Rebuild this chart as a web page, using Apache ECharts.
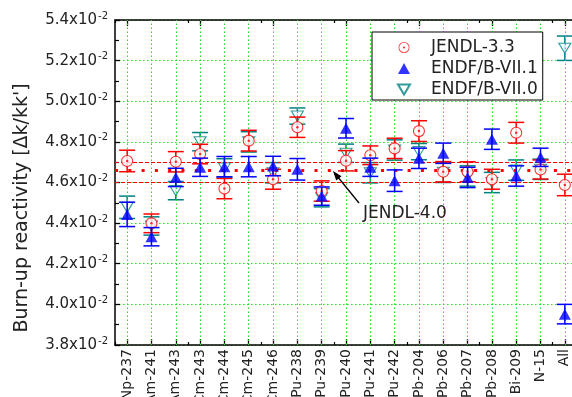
<!DOCTYPE html>
<html>
<head>
<meta charset="utf-8">
<script src="https://cdn.jsdelivr.net/npm/echarts@6/dist/echarts.min.js"></script>
<style>html,body{margin:0;padding:0;background:#fff;}#c{width:572px;height:397px;}</style>
</head>
<body>
<div id="c"></div>
<script>
// values in units of 10^-2 (Δk/kk')
const categories = ['Np-237','Am-241','Am-243','Cm-243','Cm-244','Cm-245','Cm-246','Pu-238','Pu-239','Pu-240','Pu-241','Pu-242','Pb-204','Pb-206','Pb-207','Pb-208','Bi-209','N-15','All'];
const jendl33 = [4.706,4.399,4.702,4.740,4.570,4.806,4.616,4.872,4.558,4.707,4.734,4.768,4.853,4.653,4.653,4.616,4.845,4.664,4.588];
const jendl33Err = [0.053,0.046,0.050,0.048,0.050,0.051,0.049,0.050,0.050,0.050,0.046,0.050,0.051,0.050,0.049,0.049,0.051,0.047,0.053];
const endf71 = [4.443,4.333,4.625,4.675,4.678,4.678,4.681,4.665,4.533,4.867,4.675,4.609,4.719,4.744,4.625,4.813,4.632,4.724,3.952];
const endf71Err = [0.060,0.045,0.045,0.045,0.050,0.050,0.048,0.053,0.045,0.048,0.045,0.053,0.050,0.050,0.050,0.050,0.050,0.045,0.048];
const endf70 = [4.478,4.386,4.560,4.801,4.672,4.800,4.648,4.927,4.525,4.744,4.648,4.760,4.752,4.650,4.632,4.600,4.661,4.665,5.261];
const endf70Err = [0.055,0.045,0.045,0.045,0.045,0.050,0.050,0.040,0.045,0.045,0.050,0.050,0.040,0.050,0.050,0.050,0.050,0.050,0.060];
const jendl40 = 4.657;
const jendl40Band = [4.600, 4.700];
const yTicks = {min: 3.8, max: 5.4, interval: 0.2};

const RED = '#ff0000', BLUE = '#0000ff', TEAL = '#008080', GREEN = '#22dd22';
const FONT = 'DejaVu Sans';

function errData(vals, errs) {
  return vals.map((v, i) => [i, v - errs[i], v + errs[i]]);
}
function errRender(color) {
  return function (params, api) {
    const x = api.value(0);
    const lo = api.coord([x, api.value(1)]);
    const hi = api.coord([x, api.value(2)]);
    const w = 8;
    const st = {stroke: color, lineWidth: 1.5};
    return {type: 'group', children: [
      {type: 'line', shape: {x1: lo[0], y1: lo[1], x2: hi[0], y2: hi[1]}, style: st},
      {type: 'line', shape: {x1: lo[0] - w, y1: lo[1], x2: lo[0] + w, y2: lo[1]}, style: st},
      {type: 'line', shape: {x1: hi[0] - w, y1: hi[1], x2: hi[0] + w, y2: hi[1]}, style: st}
    ]};
  };
}
function hLine(name, value, style, z) {
  return {
    name: name, type: 'scatter', data: [], xAxisIndex: 0, silent: true, z: z,
    markLine: {
      silent: true, symbol: ['none', 'none'], label: {show: false}, animation: false,
      lineStyle: style, emphasis: {disabled: true},
      data: [{yAxis: value}]
    }
  };
}

const chart = echarts.init(document.getElementById('c'), null, {renderer: 'canvas'});
const ringDot = 'path://M0,-10A10,10 0 1,1 0,10A10,10 0 1,1 0,-10ZM0,-8.6A8.6,8.6 0 1,0 0,8.6A8.6,8.6 0 1,0 0,-8.6ZM0,-2A2,2 0 1,1 0,2A2,2 0 1,1 0,-2Z';

const catAxisBase = {
  type: 'category', data: categories, boundaryGap: true,
  axisLine: {show: false}, axisLabel: {show: false}, splitLine: {show: false}
};

const option = {
  animation: false,
  backgroundColor: '#fff',
  grid: {left: 115, top: 20, width: 462, height: 325, containLabel: false, outerBoundsMode: 'none'},
  legend: {
    orient: 'vertical', left: 372, top: 32,
    data: [
      {name: 'JENDL-3.3', icon: ringDot, itemStyle: {color: RED, borderWidth: 0}},
      {name: 'ENDF/B-VII.1'},
      {name: 'ENDF/B-VII.0'}
    ],
    itemWidth: 12, itemHeight: 11, itemGap: 4,
    padding: [7, 5, 2, 25],
    borderColor: '#000', borderWidth: 1, backgroundColor: '#fff',
    textStyle: {fontFamily: FONT, fontSize: 17, color: '#222', lineHeight: 17, padding: [0, 0, 0, 16]},
    selectedMode: false, z: 20
  },
  xAxis: [
    Object.assign({}, catAxisBase, {
      position: 'bottom',
      axisLine: {show: true, lineStyle: {color: '#000', width: 1.5}},
      axisTick: {show: true, inside: true, alignWithLabel: true, length: 6, lineStyle: {color: '#000', width: 1.3}},
      axisLabel: {show: true, rotate: 90, fontFamily: FONT, fontSize: 14, color: '#222', margin: 4, interval: 0}
    }),
    Object.assign({}, catAxisBase, {
      position: 'bottom',
      axisTick: {show: true, inside: true, alignWithLabel: false, length: 3, lineStyle: {color: '#000', width: 1.2}}
    }),
    Object.assign({}, catAxisBase, {
      position: 'top',
      axisLine: {show: true, lineStyle: {color: '#000', width: 1.5}},
      axisTick: {show: true, inside: true, alignWithLabel: true, length: 6, lineStyle: {color: '#000', width: 1.3}}
    }),
    Object.assign({}, catAxisBase, {
      position: 'top',
      axisTick: {show: true, inside: true, alignWithLabel: false, length: 3, lineStyle: {color: '#000', width: 1.2}}
    })
  ],
  yAxis: [{
    type: 'value', min: yTicks.min, max: yTicks.max, interval: yTicks.interval,
    axisLine: {show: true, lineStyle: {color: '#000', width: 1.5}},
    axisTick: {show: true, inside: true, length: 5, lineStyle: {color: '#000', width: 1.3}},
    minorTick: {show: true, splitNumber: 2, length: 4, lineStyle: {color: '#000', width: 1.2}},
    splitLine: {show: true, lineStyle: {color: GREEN, type: [1.5, 2.5], width: 1}},
    axisLabel: {
      margin: 7,
      formatter: v => '{a|' + v.toFixed(1) + 'x10}{b|-2}',
      rich: {
        a: {fontFamily: FONT, fontSize: 15, color: '#222', lineHeight: 18},
        b: {fontFamily: FONT, fontSize: 10, color: '#222', verticalAlign: 'top', lineHeight: 10, padding: [0, 0, 6, 1]}
      }
    }
  }],
  series: [
    {
      name: 'grid-v', type: 'scatter', data: [], xAxisIndex: 0, silent: true, z: 1,
      markLine: {
        silent: true, symbol: ['none', 'none'], label: {show: false}, animation: false,
        lineStyle: {color: GREEN, type: [1.5, 2.5], width: 1}, emphasis: {disabled: true},
        data: categories.map(c => ({xAxis: c}))
      }
    },
    hLine('band-lo', jendl40Band[0], {color: RED, type: [4, 2], width: 1}, 2),
    hLine('band-hi', jendl40Band[1], {color: RED, type: [4, 2], width: 1}, 2),
    hLine('jendl40', jendl40, {color: RED, type: [3, 10.3], width: 3}, 2),
    {name: 'err70', type: 'custom', xAxisIndex: 0, data: errData(endf70, endf70Err), renderItem: errRender(TEAL), encode: {x: 0, y: [1, 2]}, z: 3, silent: true},
    {
      name: 'ENDF/B-VII.0', type: 'scatter', xAxisIndex: 0, data: endf70, z: 4,
      symbol: 'path://M0,0L12,0L6,10Z', symbolSize: [12, 10],
      itemStyle: {color: '#fff', borderColor: TEAL, borderWidth: 1.1}
    },
    {name: 'err33', type: 'custom', xAxisIndex: 0, data: errData(jendl33, jendl33Err), renderItem: errRender(RED), encode: {x: 0, y: [1, 2]}, z: 5, silent: true},
    {
      name: 'JENDL-3.3', type: 'scatter', xAxisIndex: 0, data: jendl33, z: 6,
      symbol: 'circle', symbolSize: 11,
      itemStyle: {color: '#fff', borderColor: RED, borderWidth: 1.1}
    },
    {
      name: 'dot33', type: 'scatter', xAxisIndex: 0, data: jendl33, z: 7, silent: true,
      symbol: 'circle', symbolSize: 2.5, itemStyle: {color: RED}
    },
    {name: 'err71', type: 'custom', xAxisIndex: 0, data: errData(endf71, endf71Err), renderItem: errRender(BLUE), encode: {x: 0, y: [1, 2]}, z: 8, silent: true},
    {
      name: 'ENDF/B-VII.1', type: 'scatter', xAxisIndex: 0, data: endf71, z: 9,
      symbol: 'triangle', symbolSize: [12, 11],
      itemStyle: {color: BLUE}
    }
  ],
  graphic: [
    {
      type: 'text', x: 22, y: 208, rotation: Math.PI / 2,
      style: {text: "Burn-up reactivity [Δk/kk']", font: '19px "DejaVu Sans"', fill: '#222', textAlign: 'center', textVerticalAlign: 'middle'}
    },
    {
      type: 'line', shape: {x1: 359, y1: 203, x2: 337, y2: 176}, style: {stroke: '#000', lineWidth: 1.3}, z: 30
    },
    {
      type: 'polygon', shape: {points: [[333, 171], [336.2, 180.5], [341.5, 176.2]]}, style: {fill: '#000'}, z: 30
    },
    {
      type: 'text', x: 363, y: 214,
      style: {text: 'JENDL-4.0', font: '17px "DejaVu Sans"', fill: '#222', textAlign: 'left', textVerticalAlign: 'middle'}, z: 30
    }
  ]
};
chart.setOption(option);
</script>
</body>
</html>
